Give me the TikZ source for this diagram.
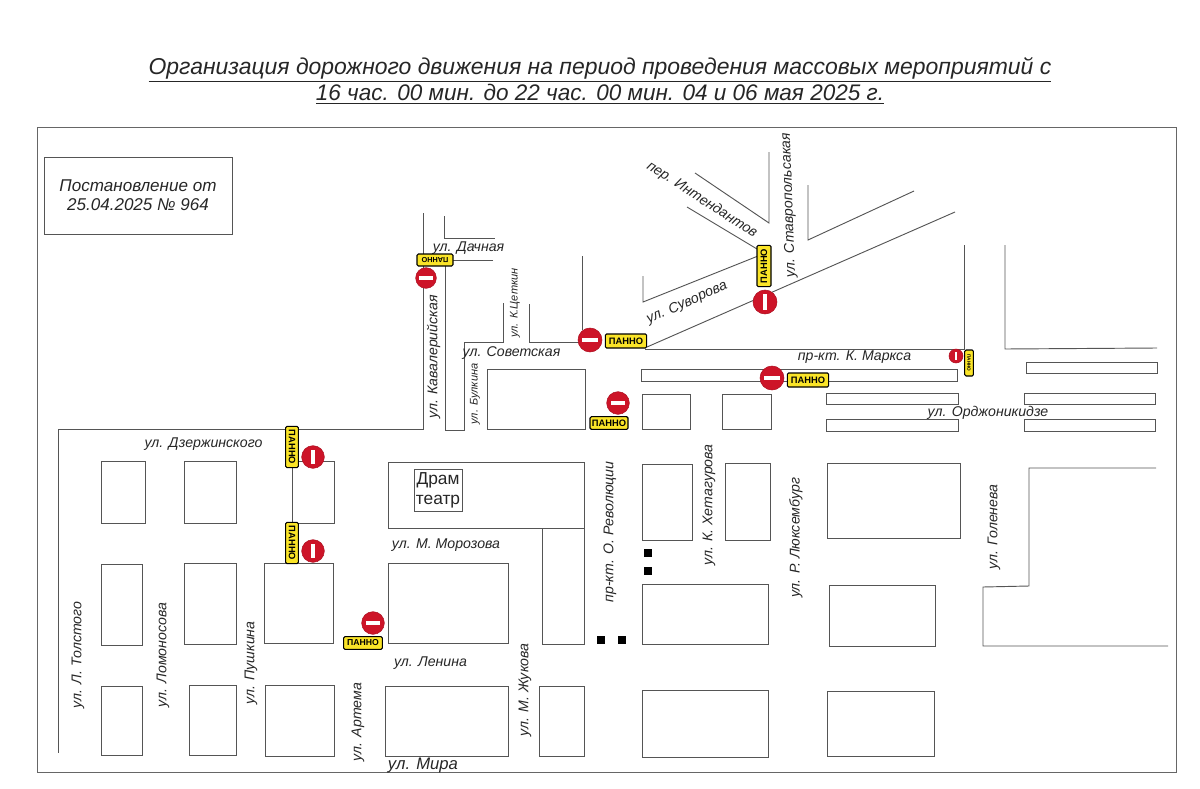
\documentclass[tikz,border=0pt]{standalone}
\usepackage{fontspec}
\setmainfont{Liberation Sans}
\definecolor{signred}{RGB}{205,20,40}
\definecolor{panelyellow}{RGB}{250,228,40}
\definecolor{roadgray}{RGB}{85,85,85}
\tikzset{
  road/.style={draw=roadgray, line width=0.7pt},
  block/.style={draw=roadgray, line width=0.7pt},
  street/.style={font=\fontsize{10.6}{13}\selectfont\itshape, text=black!85, inner sep=0pt},
  smallstreet/.style={street, font=\fontsize{8.3}{11}\selectfont\itshape},
  panel/.style={draw=black, fill=panelyellow, line width=0.8pt, rounded corners=1pt, inner sep=0pt,
    minimum width=31pt, minimum height=10.5pt, font=\fontsize{7}{8}\selectfont\bfseries},
  tinypanel/.style={panel, minimum width=19.5pt, minimum height=6.5pt, font=\fontsize{3.5}{4}\selectfont\bfseries},
  signh/.style={circle, fill=signred, draw=signred!85!black, line width=0.4pt, minimum size=#1, inner sep=0pt,
    path picture={\fill[white] ([xshift=-0.32*#1,yshift=-0.09*#1]path picture bounding box.center) rectangle ([xshift=0.32*#1,yshift=0.09*#1]path picture bounding box.center);}},
  signv/.style={circle, fill=signred, draw=signred!85!black, line width=0.4pt, minimum size=#1, inner sep=0pt,
    path picture={\fill[white] ([xshift=-0.09*#1,yshift=-0.32*#1]path picture bounding box.center) rectangle ([xshift=0.09*#1,yshift=0.32*#1]path picture bounding box.center);}},
  barrier/.style={fill=black, minimum size=6.5pt, inner sep=0pt},
}

\begin{document}
\begin{tikzpicture}[x=0.75pt, y=-0.75pt]
  \useasboundingbox (0,0) rectangle (1200,789);

  % Title
  \node[inner sep=0pt, font=\fontsize{17.2}{19}\selectfont\itshape, text=black!85] (title1) at (600,69.5) {\underline{Организация дорожного движения на период проведения массовых мероприятий с}};
  \node[inner sep=0pt, font=\fontsize{16.9}{19}\selectfont\itshape, text=black!85] (title2) at (600,94) {\underline{16 час. 00 мин. до 22 час. 00 мин. 04 и 06 мая 2025 г.}};

  % Frame and note
  \draw[draw=black!60, line width=0.7pt] (37,127) rectangle (1176,772);
  \node[draw=roadgray, line width=0.6pt, minimum width=141pt, minimum height=57.75pt, align=center, inner sep=0pt,
    font=\fontsize{12.8}{14.5}\selectfont\itshape, text=black!85] (note) at (138,195.5) {Постановление от\\25.04.2025 № 964};

  % Roads, north-west
  \draw[road] (423,213) -- (423,429) -- (58,429) -- (58,753);
  \draw[road] (444,216) -- (444,238) -- (495,238);
  \draw[road] (493,260) -- (445,260) -- (445,430) -- (464,430) -- (464,342) -- (503,342) -- (503,303);
  \draw[road] (529,304) -- (529,342) -- (582,342);
  \draw[road] (582,256) -- (582,330);

  % Roads, north
  \draw[road] (643,276) -- (643,302) -- (758,256);
  \draw[road] (687,207) -- (757,249);
  \draw[road] (695,173) -- (769,223) -- (769,152);
  \draw[road] (808,185) -- (808,240) -- (914,191);
  \draw[road] (647,347) -- (955,212);
  \draw[road] (645,349) -- (964,349) -- (964,245);
  \draw[road] (1005,245) -- (1005,349) -- (1157,348);

  % Roads, east
  \draw[road] (1156,468) -- (1029,468) -- (1029,586) -- (983,587) -- (983,646) -- (1168,646);

  % Long thin blocks
  \draw[block] (641,369) rectangle (957,381);
  \draw[block] (826,393) rectangle (958,404);
  \draw[block] (826,419) rectangle (958,431);
  \draw[block] (1026,362) rectangle (1157,373);
  \draw[block] (1024,393) rectangle (1155,404);
  \draw[block] (1024,419) rectangle (1155,431);

  % City blocks
  \draw[block] (487,369) rectangle (585,429);
  \draw[block] (642,394) rectangle (690,429);
  \draw[block] (722,394) rectangle (771,429);
  \draw[block] (101,461) rectangle (145,523);
  \draw[block] (184,461) rectangle (236,523);
  \draw[block] (292,461) rectangle (334,523);
  \draw[block] (101,564) rectangle (142,645);
  \draw[block] (184,563) rectangle (236,644);
  \draw[block] (264,563) rectangle (333,643);
  \draw[block] (101,686) rectangle (142,755);
  \draw[block] (189,685) rectangle (236,755);
  \draw[block] (265,685) rectangle (334,756);
  \draw[block] (388,462) rectangle (584,528);
  \draw[block] (542,528) rectangle (584,644);
  \draw[block] (388,563) rectangle (508,643);
  \draw[block] (385,686) rectangle (508,756);
  \draw[block] (539,686) rectangle (584,756);
  \draw[block] (642,464) rectangle (692,540);
  \draw[block] (725,463) rectangle (770,540);
  \draw[block] (642,584) rectangle (768,644);
  \draw[block] (642,690) rectangle (768,757);
  \draw[block] (827,463) rectangle (960,538);
  \draw[block] (829,585) rectangle (935,646);
  \draw[block] (827,691) rectangle (934,756);

  % Theatre
  \node[draw=roadgray, line width=0.6pt, minimum width=36pt, minimum height=32pt, align=center, inner sep=0pt,
    font=\fontsize{13}{15}\selectfont, text=black!85] (theatre) at (438,490.5) {Драм\\театр};

  % Barriers
  \node[barrier] (barrier1) at (648,553) {};
  \node[barrier] (barrier2) at (648,571) {};
  \node[barrier] (barrier3) at (601,640) {};
  \node[barrier] (barrier4) at (622,640) {};

  % Street names
  \node[street] (dachnaya) at (468.5,248) {ул. Дачная};
  \node[street, rotate=90] (kavaleriyskaya) at (433.5,357) {ул. Кавалерийская};
  \node[smallstreet, rotate=90] (tsetkin) at (515,303) {ул. К.Цеткин};
  \node[smallstreet, rotate=90] (bulkina) at (475,394) {ул. Булкина};
  \node[street] (sovetskaya) at (511.5,353) {ул. Советская};
  \node[street, rotate=24] (suvorova) at (687,303) {ул. Суворова};
  \node[street, rotate=-33] (intendantov) at (702,200) {пер. Интендантов};
  \node[street, rotate=92] (stavropolskaya) at (789,205) {ул. Ставропольсакая};
  \node[street] (marksa) at (854.5,357) {пр-кт. К. Маркса};
  \node[street] (ordzhonikidze) at (988,413) {ул. Орджоникидзе};
  \node[street] (dzerzhinskogo) at (203.5,444) {ул. Дзержинского};
  \node[street, rotate=90] (tolstogo) at (78,655) {ул. Л. Толстого};
  \node[street, rotate=90] (lomonosova) at (163,655) {ул. Ломоносова};
  \node[street, rotate=90] (pushkina) at (251,663) {ул. Пушкина};
  \node[street, rotate=90] (artema) at (358,722) {ул. Артема};
  \node[street] (morozova) at (446,545) {ул. М. Морозова};
  \node[street] (lenina) at (430.5,663) {ул. Ленина};
  \node[street, font=\fontsize{12.5}{15}\selectfont\itshape] (mira) at (423,765) {ул. Мира};
  \node[street, rotate=90] (zhukova) at (525,690) {ул. М. Жукова};
  \node[street, rotate=90] (revolyutsii) at (610,532) {пр-кт. О. Революции};
  \node[street, rotate=90] (khetagurova) at (709,505) {ул. К. Хетагурова};
  \node[street, rotate=90] (lyuksemburg) at (796,538) {ул. Р. Люксембург};
  \node[street, rotate=90] (goleneva) at (994,527) {ул. Голенева};

  % No entry signs
  \node[signh=15.5pt] (sign1) at (426,278) {};
  \node[signh=18pt] (sign2) at (590,340) {};
  \node[signh=17pt] (sign3) at (618,403) {};
  \node[signv=18pt] (sign4) at (765,302) {};
  \node[signh=18pt] (sign5) at (772,378) {};
  \node[signv=10.5pt] (sign6) at (956,356) {};
  \node[signv=17pt] (sign7) at (313,457) {};
  \node[signv=17pt] (sign8) at (313,551) {};
  \node[signh=17pt] (sign9) at (373,623) {};

  % Panels
  \node[panel, rotate=180, minimum width=27pt, minimum height=9pt, font=\fontsize{5.5}{6}\selectfont\bfseries] (panel1) at (435,260) {ПАННО};
  \node[panel] (panel2) at (626,341) {ПАННО};
  \node[panel, minimum width=28.5pt, minimum height=9.5pt] (panel3) at (609,423) {ПАННО};
  \node[panel, rotate=90] (panel4) at (764,266) {ПАННО};
  \node[panel] (panel5) at (808,380) {ПАННО};
  \node[tinypanel, rotate=-90] (panel6) at (969,363) {ПАННО};
  \node[panel, rotate=-90, minimum height=9.5pt] (panel7) at (292,447) {ПАННО};
  \node[panel, rotate=-90, minimum height=9.5pt] (panel8) at (292,543) {ПАННО};
  \node[panel, minimum width=29pt, minimum height=9.5pt, font=\fontsize{6.5}{8}\selectfont\bfseries] (panel9) at (363,643) {ПАННО};
\end{tikzpicture}
\end{document}
